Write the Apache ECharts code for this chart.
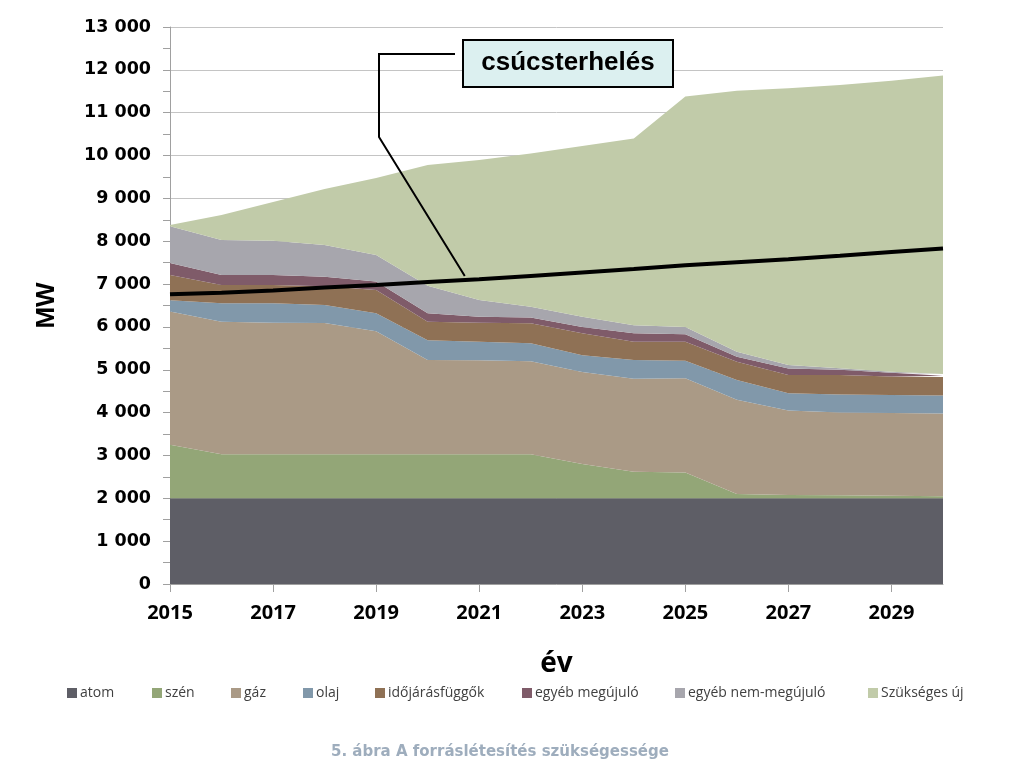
<!DOCTYPE html>
<html>
<head>
<meta charset="utf-8">
<script src="https://cdn.jsdelivr.net/npm/echarts@6/dist/echarts.min.js"></script>
<style>html,body{margin:0;padding:0;background:#fff}#c{width:1024px;height:774px}</style>
</head>
<body>
<div id="c"></div>
<script>
const years = ['2015','2016','2017','2018','2019','2020','2021','2022','2023','2024','2025','2026','2027','2028','2029','2030'];
const atom = [2000,2000,2000,2000,2000,2000,2000,2000,2000,2000,2000,2000,2000,2000,2000,2000];
const szen = [1250,1030,1030,1030,1030,1030,1030,1030,800,620,600,100,80,70,60,50];
const gaz = [3110,3090,3070,3060,2870,2200,2190,2170,2150,2170,2200,2200,1970,1930,1930,1930];
const olaj = [260,430,450,420,420,460,435,420,390,440,410,460,400,420,420,420];
const idojaras = [590,430,430,440,540,430,445,465,510,425,445,430,430,460,430,430];
const egyebMegujulo = [280,230,230,220,200,200,140,135,150,195,175,115,150,120,90,30];
const egyebNemMegujulo = [860,820,800,740,620,640,390,250,240,190,170,115,80,35,25,40];
const szuksegesUj = [30,580,905,1310,1795,2820,3265,3580,3980,4360,5380,6090,6460,6610,6790,6970];
const csucsterheles = [6760,6800,6850,6920,6980,7050,7110,7190,7270,7350,7440,7510,7580,7660,7750,7830];

const seriesNames = ['atom','szén','gáz','olaj','időjárásfüggők','egyéb megújuló','egyéb nem-megújuló','Szükséges új'];
const seriesData = [atom, szen, gaz, olaj, idojaras, egyebMegujulo, egyebNemMegujulo, szuksegesUj];
const colors = ['#5e5e66','#93a677','#aa9a86','#8198aa','#8f7155','#7f5b69','#a7a6ad','#c1cba9'];
const legendLeft = [62, 147, 226, 298, 370, 517, 670, 863];

const chart = echarts.init(document.getElementById('c'), null, {renderer:'canvas'});

const series = seriesData.map((d, i) => ({
  name: seriesNames[i], type: 'line', stack: 'total', data: d,
  showSymbol: false, symbol: 'none', lineStyle: {width: 0}, areaStyle: {color: colors[i], opacity: 1},
  itemStyle: {color: colors[i]}, emphasis: {disabled: true}, z: 2
}));
series.push({
  name: 'csúcsterhelés', type: 'line', data: csucsterheles, showSymbol: false, symbol: 'none',
  lineStyle: {color: '#000', width: 4}, itemStyle: {color: '#000'}, z: 5
});

const legends = seriesNames.map((n, i) => ({
  data: [n], left: legendLeft[i], top: 681, icon: 'rect', itemWidth: 10, itemHeight: 10, itemGap: 0,
  textStyle: {fontSize: 14, color: '#404040', fontFamily: 'Open Sans', padding: [0,0,0,-2]}
}));

chart.setOption({
  animation: false,
  color: colors,
  title: {
    text: '5. ábra A forráslétesítés szükségessége', left: 326, top: 740,
    textStyle: {fontSize: 15, fontWeight: 'bold', color: '#9eadbd', fontFamily: 'DejaVu Sans'}
  },
  legend: legends,
  grid: {left: 170, right: 81, top: 27, bottom: 190, containLabel: false},
  xAxis: {
    type: 'category', data: years, boundaryGap: false,
    name: 'év', nameLocation: 'middle', nameGap: 66,
    nameTextStyle: {fontSize: 28, fontWeight: 'bold', color: '#000', fontFamily: 'Open Sans'},
    axisLine: {show: true, lineStyle: {color: '#a0a0a0'}},
    axisTick: {show: true, interval: 1, length: 8, lineStyle: {color: '#a0a0a0'}},
    axisLabel: {interval: 1, margin: 19, fontSize: 20, fontWeight: 'bold', color: '#000', fontFamily: 'Open Sans'},
    splitLine: {show: false}
  },
  yAxis: {
    type: 'value', min: 0, max: 13000, interval: 1000,
    name: 'MW', nameLocation: 'middle', nameGap: 110, nameRotate: 90,
    nameTextStyle: {fontSize: 26, fontWeight: 'bold', color: '#000', fontFamily: 'Liberation Sans'},
    axisLine: {show: true, lineStyle: {color: '#a0a0a0'}},
    axisTick: {show: true, length: 7, lineStyle: {color: '#a0a0a0'}},
    minorTick: {show: true, splitNumber: 2, length: 7, lineStyle: {color: '#a0a0a0'}},
    axisLabel: {
      margin: 19, fontSize: 17.5, fontWeight: 'bold', color: '#000', fontFamily: 'DejaVu Sans',
      formatter: v => String(v).replace(/\B(?=(\d{3})+(?!\d))/g, ' ')
    },
    splitLine: {show: true, lineStyle: {color: '#c4c4c4', width: 1}}
  },
  series: series
});

// callout annotation anchored to the peak-load line
const p5 = chart.convertToPixel({gridIndex: 0}, [5, csucsterheles[5]]);
const p6 = chart.convertToPixel({gridIndex: 0}, [6, csucsterheles[6]]);
const t = 0.72;
const anchor = [p5[0] + (p6[0] - p5[0]) * t, p5[1] + (p6[1] - p5[1]) * t - 4];
chart.setOption({
  graphic: [
    {type: 'polyline', z: 100, shape: {points: [[455, 54], [379, 54], [379, 137], anchor]},
     style: {stroke: '#000', lineWidth: 2, fill: null}},
    {type: 'rect', z: 100, shape: {x: 463, y: 40, width: 210, height: 47},
     style: {fill: '#dcf0f0', stroke: '#000', lineWidth: 2}},
    {type: 'text', z: 101, x: 568, y: 63,
     style: {text: 'csúcsterhelés', fontSize: 26, fontWeight: 'bold', fontFamily: 'Liberation Sans',
             fill: '#000', align: 'center', verticalAlign: 'middle'}}
  ]
});
</script>
</body>
</html>
